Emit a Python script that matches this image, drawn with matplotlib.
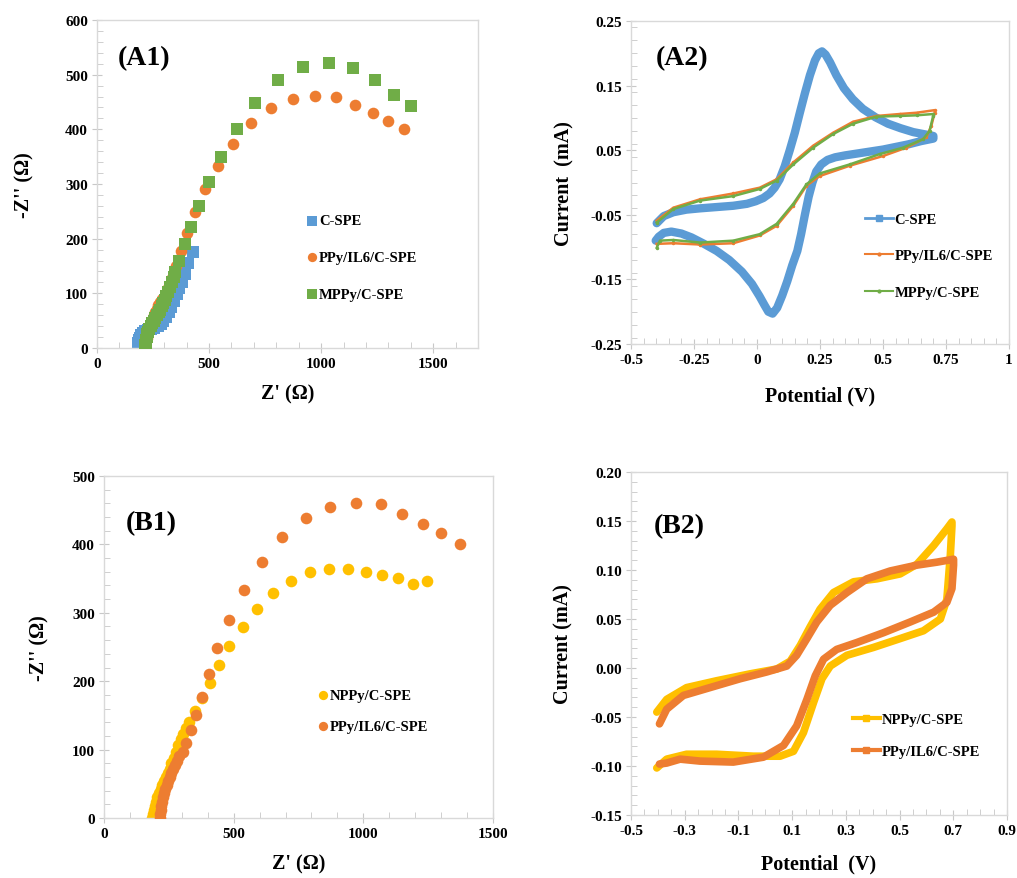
import matplotlib
matplotlib.use("Agg")
import matplotlib.pyplot as plt
from matplotlib.lines import Line2D
from matplotlib.ticker import MultipleLocator

plt.rcParams['font.family'] = ['Liberation Serif', 'DejaVu Serif']
plt.rcParams['font.weight'] = 'bold'

BLUE = '#5B9BD5'
ORANGE = '#ED7D31'
GREEN = '#70AD47'
YELLOW = '#FFC000'
GRID = '#C8C8C8'

# ---- Nyquist data (Z', -Z'') ----
cspe_zr = [182, 183, 185, 188, 192, 198, 206, 216, 228, 242, 256, 270, 284, 296, 308,
           320, 332, 344, 356, 368, 380, 393, 408, 430]
cspe_zi = [0, 4, 9, 14, 19, 24, 28, 31, 33, 35, 37, 40, 44, 50, 57,
           65, 75, 86, 98, 110, 121, 136, 155, 176]

ppy_zr = [215, 216, 218, 221, 224, 228, 232, 237, 242, 248, 254, 260, 267, 274, 281,
          290, 305, 318, 336, 353, 376, 403, 437, 481, 538, 608, 687, 777, 873, 971,
          1068, 1151, 1231, 1300, 1372]
ppy_zi = [0, 6, 12, 18, 24, 30, 36, 42, 48, 54, 60, 66, 72, 78, 84,
          90, 97, 110, 128, 150, 177, 210, 248, 290, 333, 374, 411, 439, 455, 461,
          459, 444, 430, 416, 400]

mppy_zr = [215, 216, 218, 220, 222, 225, 229, 234, 240, 247, 254, 261, 268, 275, 282,
           289, 296, 303, 310, 318, 326, 334, 342, 350, 366, 393, 420, 455, 501, 553,
           623, 705, 806, 920, 1034, 1144, 1242, 1323, 1399]
mppy_zi = [0, 5, 10, 15, 20, 25, 30, 35, 40, 45, 50, 55, 60, 65, 70,
           76, 82, 88, 95, 103, 112, 121, 130, 139, 160, 190, 221, 260, 304, 350,
           400, 449, 490, 514, 521, 512, 490, 463, 442]

nppy_zr = [185, 188, 192, 196, 201, 206, 212, 218, 225, 232, 239, 246, 253, 260, 268,
           276, 285, 295, 305, 317, 329, 350, 377, 408, 442, 483, 535, 590, 651, 723,
           795, 868, 940, 1009, 1073, 1133, 1190, 1246]
nppy_zi = [0, 6, 12, 18, 24, 30, 36, 42, 48, 54, 60, 66, 72, 80, 88,
           97, 107, 115, 123, 132, 140, 157, 176, 198, 224, 251, 279, 306, 329, 347,
           360, 364, 364, 360, 355, 351, 342, 347]

# ---- CV data (E / V, I / mA) ----
cv_cspe_e = [-0.398, -0.37, -0.332, -0.28, -0.226, -0.16, -0.094, -0.04, -0.005, 0.025,
             0.05, 0.07, 0.09, 0.11, 0.13, 0.15, 0.17, 0.19, 0.21, 0.23,
             0.245, 0.258, 0.272, 0.29, 0.315, 0.345, 0.38, 0.42, 0.47, 0.52,
             0.57, 0.62, 0.66, 0.70,
             0.70, 0.65, 0.60, 0.55, 0.50, 0.45, 0.40, 0.35, 0.31, 0.28,
             0.255, 0.235, 0.22, 0.205, 0.19, 0.175, 0.16, 0.14, 0.12, 0.10,
             0.08, 0.062, 0.045, 0.03, 0.01, -0.02, -0.06, -0.11, -0.16, -0.21,
             -0.26, -0.30, -0.34, -0.37, -0.39, -0.402]
cv_cspe_i = [-0.063, -0.052, -0.046, -0.042, -0.040, -0.038, -0.036, -0.033, -0.029, -0.024,
             -0.017, -0.008, 0.005, 0.025, 0.050, 0.077, 0.108, 0.138, 0.166, 0.189,
             0.200, 0.203, 0.198, 0.186, 0.166, 0.146, 0.129, 0.114, 0.101, 0.091,
             0.084, 0.078, 0.075, 0.072,
             0.068, 0.064, 0.059, 0.055, 0.051, 0.048, 0.045, 0.042, 0.039, 0.035,
             0.028, 0.017, 0.0, -0.022, -0.050, -0.080, -0.106, -0.128, -0.153, -0.175,
             -0.194, -0.203, -0.200, -0.190, -0.176, -0.157, -0.138, -0.120, -0.106, -0.095,
             -0.085, -0.079, -0.076, -0.078, -0.084, -0.090]

cv_ppy_e = [-0.398, -0.332, -0.226, -0.094, 0.011, 0.078, 0.144, 0.223, 0.302, 0.381,
            0.474, 0.566, 0.633, 0.705,
            0.705, 0.692, 0.672, 0.593, 0.500, 0.368, 0.249, 0.196, 0.144, 0.078,
            0.011, -0.094, -0.226, -0.332, -0.398]
cv_ppy_i = [-0.059, -0.039, -0.026, -0.017, -0.008, 0.005, 0.031, 0.057, 0.077, 0.094,
            0.103, 0.106, 0.108, 0.112,
            0.108, 0.088, 0.070, 0.054, 0.041, 0.026, 0.010, -0.005, -0.036, -0.067,
            -0.082, -0.094, -0.096, -0.094, -0.095]

cv_mppy_e = [-0.398, -0.332, -0.226, -0.094, 0.011, 0.078, 0.144, 0.223, 0.302, 0.381,
             0.474, 0.566, 0.633, 0.699,
             0.699, 0.685, 0.659, 0.580, 0.487, 0.368, 0.249, 0.196, 0.144, 0.078,
             0.011, -0.094, -0.226, -0.332, -0.385, -0.398]
cv_mppy_i = [-0.062, -0.041, -0.028, -0.021, -0.010, 0.003, 0.028, 0.054, 0.075, 0.091,
             0.102, 0.103, 0.104, 0.106,
             0.103, 0.080, 0.067, 0.054, 0.044, 0.028, 0.014, -0.003, -0.033, -0.064,
             -0.080, -0.090, -0.093, -0.089, -0.090, -0.101]

cv_nppy_e = [-0.404, -0.367, -0.293, -0.181, -0.057, 0.043, 0.093, 0.130, 0.167, 0.204,
             0.254, 0.329, 0.416, 0.502, 0.565, 0.627, 0.676, 0.695,
             0.695, 0.689, 0.676, 0.652, 0.589, 0.502, 0.403, 0.304, 0.242, 0.211,
             0.180, 0.142, 0.105, 0.055, -0.044, -0.181, -0.293, -0.367, -0.404]
cv_nppy_i = [-0.045, -0.032, -0.020, -0.013, -0.006, -0.001, 0.007, 0.023, 0.042, 0.060,
             0.077, 0.088, 0.091, 0.096, 0.106, 0.125, 0.142, 0.149,
             0.145, 0.115, 0.070, 0.050, 0.038, 0.030, 0.021, 0.013, 0.002, -0.011,
             -0.035, -0.066, -0.085, -0.090, -0.090, -0.088, -0.088, -0.093, -0.102]

cv_ppy2_e = [-0.394, -0.367, -0.305, -0.206, -0.094, 0.006, 0.080, 0.117, 0.155, 0.192,
             0.242, 0.304, 0.378, 0.465, 0.565, 0.639, 0.701,
             0.701, 0.695, 0.676, 0.627, 0.540, 0.440, 0.341, 0.266, 0.217, 0.186,
             0.155, 0.117, 0.068, -0.007, -0.119, -0.243, -0.317, -0.367, -0.394]
cv_ppy2_i = [-0.057, -0.042, -0.028, -0.020, -0.011, -0.004, 0.002, 0.013, 0.030, 0.047,
             0.064, 0.077, 0.091, 0.099, 0.105, 0.108, 0.111,
             0.105, 0.081, 0.067, 0.057, 0.047, 0.036, 0.026, 0.019, 0.009, -0.008,
             -0.032, -0.059, -0.079, -0.091, -0.096, -0.095, -0.093, -0.097, -0.098]

a2_xticks = [-0.5, -0.25, 0, 0.25, 0.5, 0.75, 1]
a2_xlabels = ['-0.5', '-0.25', '0', '0.25', '0.5', '0.75', '1']
a2_yticks = [-0.25, -0.15, -0.05, 0.05, 0.15, 0.25]
a2_ylabels = ['-0.25', '-0.15', '-0.05', '0.05', '0.15', '0.25']
b2_xticks = [-0.5, -0.3, -0.1, 0.1, 0.3, 0.5, 0.7, 0.9]
b2_xlabels = ['-0.5', '-0.3', '-0.1', '0.1', '0.3', '0.5', '0.7', '0.9']
b2_yticks = [-0.15, -0.10, -0.05, 0.0, 0.05, 0.10, 0.15, 0.20]
b2_ylabels = ['-0.15', '-0.10', '-0.05', '0.00', '0.05', '0.10', '0.15', '0.20']

W, H = 1017, 879
fig = plt.figure(figsize=(W / 100, H / 100), dpi=100)


def px_axes(l, t, r, b):
    return fig.add_axes([l / W, 1 - b / H, (r - l) / W, (b - t) / H])


def style(ax, xmin, ymin):
    for s in ax.spines.values():
        s.set_color('#D9D9D9')
        s.set_linewidth(1.0)
    ax.tick_params(which='major', direction='inout', length=7, color=GRID,
                   labelsize=11, pad=3, top=False, right=False)
    ax.tick_params(which='minor', direction='in', length=4, color=GRID,
                   top=False, right=False)
    ax.xaxis.set_minor_locator(MultipleLocator(xmin))
    ax.yaxis.set_minor_locator(MultipleLocator(ymin))
    for lab in ax.get_xticklabels() + ax.get_yticklabels():
        lab.set_fontweight('bold')


# ---------- A1 ----------
ax1 = px_axes(97, 21, 478, 349)
ax1.scatter(cspe_zr, cspe_zi, marker='s', s=70, color=BLUE, linewidths=0, label='C-SPE', zorder=2)
ax1.scatter(ppy_zr, ppy_zi, marker='o', s=70, color=ORANGE, linewidths=0, label='PPy/IL6/C-SPE', zorder=3)
ax1.scatter(mppy_zr, mppy_zi, marker='s', s=70, color=GREEN, linewidths=0, label='MPPy/C-SPE', zorder=4)
ax1.set_xlim(0, 1700)
ax1.set_ylim(0, 600)
ax1.set_xticks([0, 500, 1000, 1500])
ax1.set_yticks(range(0, 601, 100))
style(ax1, 100, 20)
ax1.set_xlabel("Z' (\u03a9)", fontsize=14.5, fontweight='bold', labelpad=10)
ax1.set_ylabel("-Z'' (\u03a9)", fontsize=14.5, fontweight='bold', labelpad=22)
ax1.text(0.055, 0.925, '(A1)', transform=ax1.transAxes, fontsize=20, fontweight='bold', va='top')
ax1.legend(loc='upper left', bbox_to_anchor=(0.525, 0.43), frameon=False, fontsize=10.5,
           labelspacing=1.6, handletextpad=0.0, handlelength=1.0, markerscale=0.8,
           borderpad=0)

# ---------- A2 ----------
ax2 = px_axes(631, 22, 1009, 345)
ax2.plot(cv_cspe_e, cv_cspe_i, color=BLUE, lw=6, solid_joinstyle='round', solid_capstyle='round')
ax2.plot(cv_ppy_e, cv_ppy_i, color=ORANGE, lw=1.8, marker='o', ms=1.5)
ax2.plot(cv_mppy_e, cv_mppy_i, color=GREEN, lw=1.8, marker='o', ms=1.5)
ax2.set_xlim(-0.5, 1)
ax2.set_ylim(-0.25, 0.25)
ax2.set_xticks(a2_xticks, a2_xlabels)
ax2.set_yticks(a2_yticks, a2_ylabels)
style(ax2, 0.05, 0.02)
ax2.set_xlabel('Potential (V)', fontsize=14.5, fontweight='bold', labelpad=14)
ax2.set_ylabel('Current  (mA)', fontsize=14.5, fontweight='bold', labelpad=11)
ax2.text(0.065, 0.925, '(A2)', transform=ax2.transAxes, fontsize=20, fontweight='bold', va='top')
h2 = [Line2D([], [], color=BLUE, lw=2, marker='s', ms=5),
      Line2D([], [], color=ORANGE, lw=1.5, marker='o', ms=2),
      Line2D([], [], color=GREEN, lw=1.5, marker='o', ms=2)]
ax2.legend(h2, ['C-SPE', 'PPy/IL6/C-SPE', 'MPPy/C-SPE'], loc='upper left',
           bbox_to_anchor=(0.6, 0.43), frameon=False, fontsize=10.5, labelspacing=1.6,
           handletextpad=0.1, handlelength=1.9, borderpad=0)

# ---------- B1 ----------
ax3 = px_axes(104, 477, 493, 819)
ax3.scatter(nppy_zr, nppy_zi, marker='o', s=70, color=YELLOW, linewidths=0, label='NPPy/C-SPE', zorder=2)
ax3.scatter(ppy_zr, ppy_zi, marker='o', s=70, color=ORANGE, linewidths=0, label='PPy/IL6/C-SPE', zorder=3)
ax3.set_xlim(0, 1500)
ax3.set_ylim(0, 500)
ax3.set_xticks([0, 500, 1000, 1500])
ax3.set_yticks(range(0, 501, 100))
style(ax3, 100, 20)
ax3.set_xlabel("Z' (\u03a9)", fontsize=14.5, fontweight='bold', labelpad=10)
ax3.set_ylabel("-Z'' (\u03a9)", fontsize=14.5, fontweight='bold', labelpad=16)
ax3.text(0.055, 0.9, '(B1)', transform=ax3.transAxes, fontsize=20, fontweight='bold', va='top')
ax3.legend(loc='upper left', bbox_to_anchor=(0.525, 0.4), frameon=False, fontsize=10.5,
           labelspacing=1.25, handletextpad=0.0, handlelength=1.0, markerscale=0.8,
           borderpad=0)

# ---------- B2 ----------
ax4 = px_axes(631, 473, 1007, 816)
ax4.plot(cv_nppy_e, cv_nppy_i, color=YELLOW, lw=5.5, solid_joinstyle='round', solid_capstyle='round')
ax4.plot(cv_ppy2_e, cv_ppy2_i, color=ORANGE, lw=5.5, solid_joinstyle='round', solid_capstyle='round')
ax4.set_xlim(-0.5, 0.9)
ax4.set_ylim(-0.15, 0.20)
ax4.set_xticks(b2_xticks, b2_xlabels)
ax4.set_yticks(b2_yticks, b2_ylabels)
style(ax4, 0.05, 0.01)
ax4.set_xlabel('Potential  (V)', fontsize=14.5, fontweight='bold', labelpad=12)
ax4.set_ylabel('Current (mA)', fontsize=14.5, fontweight='bold', labelpad=12)
ax4.text(0.06, 0.88, '(B2)', transform=ax4.transAxes, fontsize=20, fontweight='bold', va='top')
h4 = [Line2D([], [], color=YELLOW, lw=3, marker='s', ms=5),
      Line2D([], [], color=ORANGE, lw=3, marker='s', ms=5)]
ax4.legend(h4, ['NPPy/C-SPE', 'PPy/IL6/C-SPE'], loc='upper left',
           bbox_to_anchor=(0.57, 0.32), frameon=False, fontsize=10.5, labelspacing=1.32,
           handletextpad=0.1, handlelength=1.9, borderpad=0)

fig.savefig('out.png', dpi=100)
